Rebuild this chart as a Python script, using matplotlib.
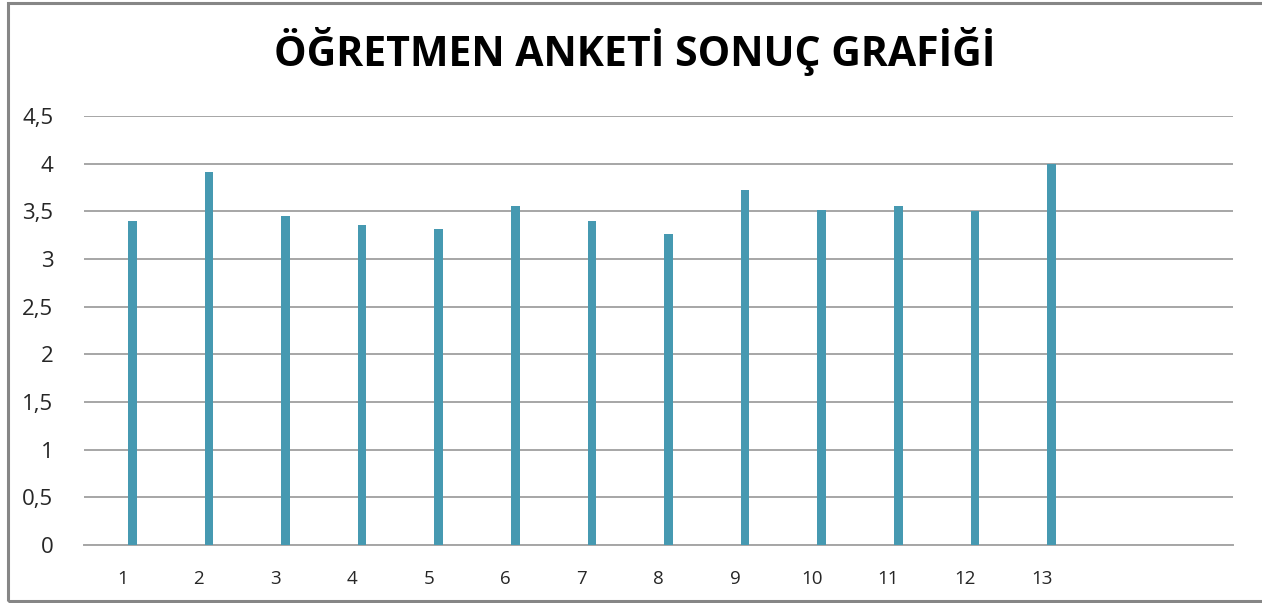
import matplotlib.pyplot as plt
from matplotlib.patches import Rectangle
from matplotlib.ticker import FuncFormatter

# survey results per question
questions = list(range(1, 14))
scores = [3.40, 3.91, 3.45, 3.36, 3.31, 3.56, 3.40, 3.26, 3.72, 3.51, 3.56, 3.50, 4.00]
n_slots = 15
y_ticks = [0, 0.5, 1, 1.5, 2, 2.5, 3, 3.5, 4, 4.5]

bar_color = "#4699B1"
grid_color = "#A6A6A6"

plt.rcParams["font.family"] = ["Open Sans", "DejaVu Sans"]

fig = plt.figure(figsize=(12.62, 6.03), dpi=100)
ax = fig.add_axes([84 / 1262, 1 - 545 / 603, 1149 / 1262, (545 - 116) / 603])

offset = 10 / 76.6
ax.bar([q + offset for q in questions], scores, width=8.5 / 76.6, color=bar_color, zorder=3)

ax.set_xlim(0.5, n_slots + 0.5)
ax.set_ylim(0, 4.5)
ax.set_yticks(y_ticks)
ax.yaxis.set_major_formatter(FuncFormatter(lambda v, _: f"{v:g}".replace(".", ",")))
ax.set_xticks(questions)
ax.set_xticklabels([str(q) for q in questions])

ax.grid(axis="y", color=grid_color, linewidth=1.4, zorder=0)
for side in ["left", "right", "top"]:
    ax.spines[side].set_visible(False)
ax.spines["bottom"].set_color(grid_color)
ax.spines["bottom"].set_linewidth(1.4)
ax.tick_params(axis="y", length=0, pad=22, labelsize=16, labelcolor="#262626")
ax.tick_params(axis="x", length=0, pad=18, labelsize=13.5, labelcolor="#262626")

fig.text(635 / 1262, 1 - 52 / 603, "ÖĞRETMEN ANKETİ SONUÇ GRAFİĞİ",
         ha="center", va="center", fontsize=29.5, fontweight="bold", color="black")

# outer chart frame
fig.patches.append(Rectangle((8 / 1262, 2 / 603), 1.1, 598 / 603, transform=fig.transFigure,
                             fill=False, edgecolor="#868686", linewidth=2.2))

fig.savefig("out.png", dpi=100)
